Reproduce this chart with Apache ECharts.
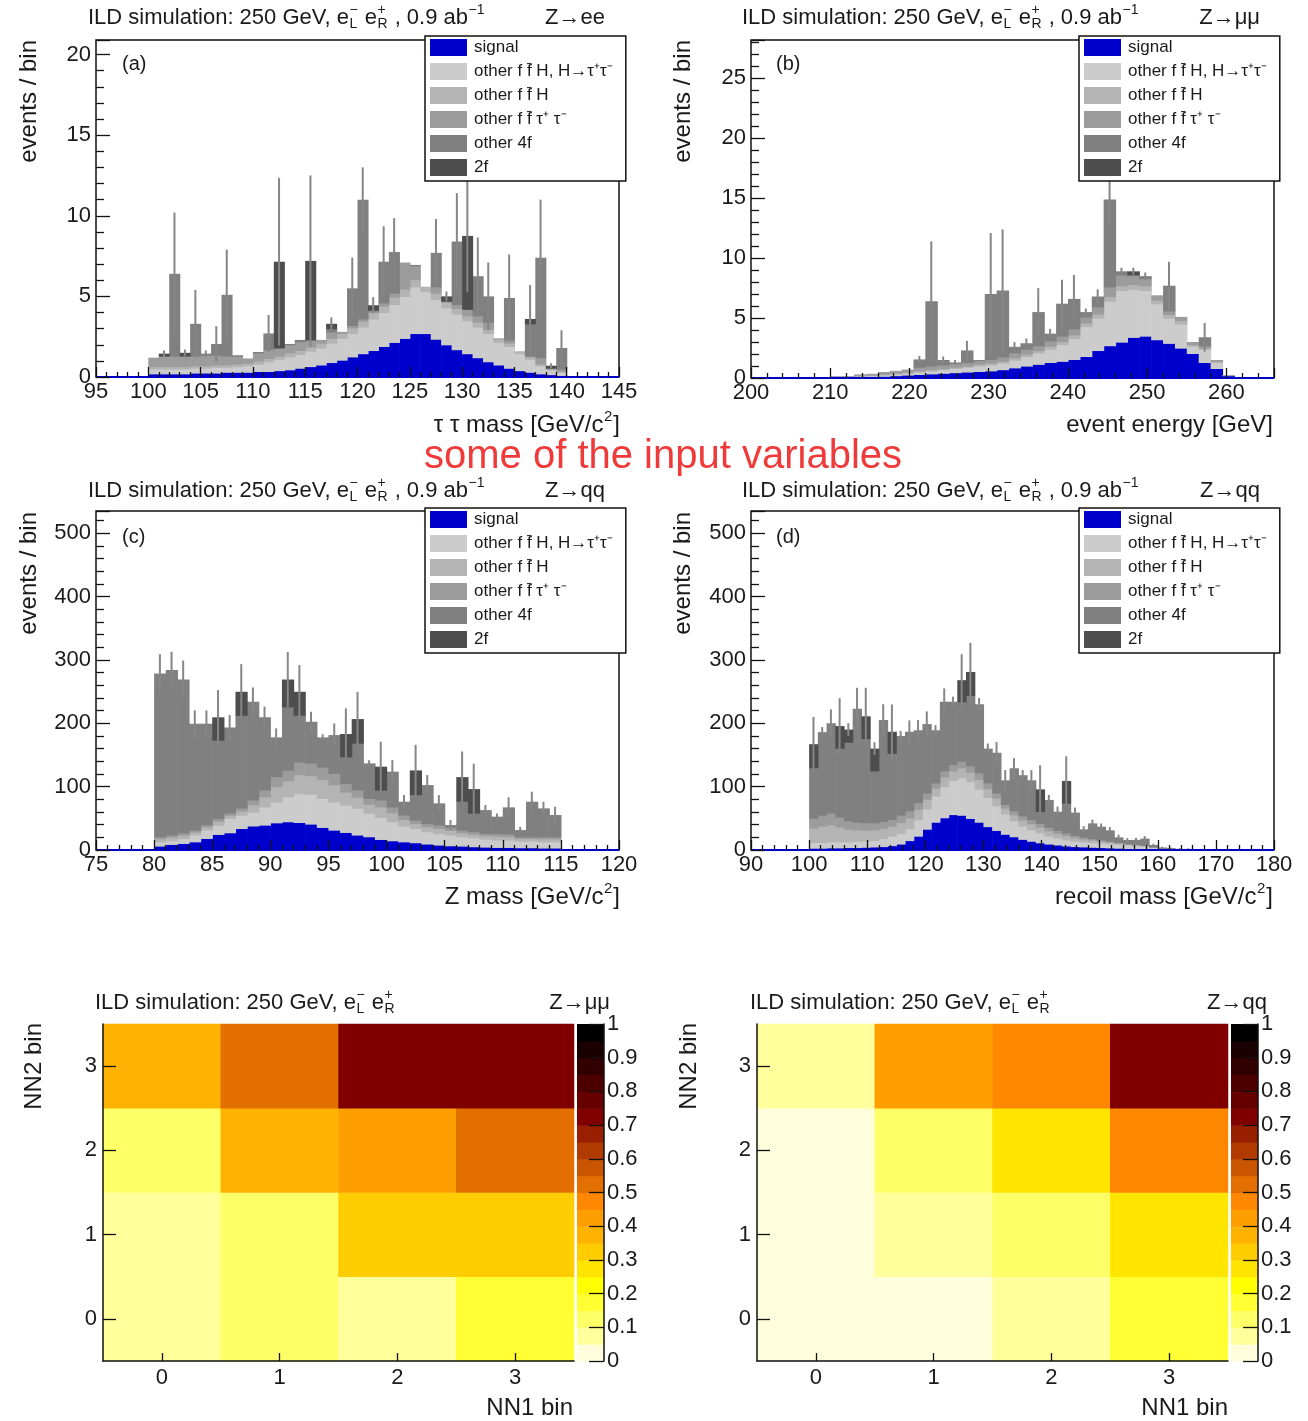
<!DOCTYPE html>
<html>
<head>
<meta charset="utf-8">
<title>ILD simulation: input variables and NN bin maps</title>
<script src="https://cdn.jsdelivr.net/npm/echarts@6/dist/echarts.min.js"></script>
<style>
  html, body { margin: 0; padding: 0; background: #ffffff; }
  #chart { width: 1308px; height: 1421px; }
</style>
</head>
<body>
<div id="chart"></div>
<script>
// ---------------------------------------------------------------------------
// Background categories of the stacked histograms (bottom of stack first)
// ---------------------------------------------------------------------------
const stackNames = [
  'signal',
  'other f f\u0304 H, H\u2192\u03c4\u207a\u03c4\u207b',
  'other f f\u0304 H',
  'other f f\u0304 \u03c4\u207a \u03c4\u207b',
  'other 4f',
  '2f'
];

// (a) Z->ee channel: tau tau mass, 1 GeV bins starting at 100 GeV/c2
const tautauBinStart = 100;
const tautauBinWidth = 1;
const tautauSignal = [0.2,0.2,0.2,0.2,0.25,0.25,0.25,0.3,0.3,0.3, 0.35,0.35,0.4,0.45,0.55,0.65,0.75,0.9,1.05,1.25, 1.45,1.65,1.9,2.15,2.4,2.7,2.7,2.35,2.0,1.7, 1.45,1.2,0.95,0.75,0.55,0.4,0.3,0.2,0.15,0.1];
const tautauHiggsTauTau = [0.3,0.3,0.3,0.3,0.3,0.3,0.35,0.3,0.35,0.4, 0.45,0.6,0.7,0.8,0.85,0.95,1.05,1.2,1.35,1.45, 1.65,1.95,2.1,2.35,2.6,2.9,2.6,2.45,2.3,2.2, 2.05,1.9,1.75,1.4,1.35,1.05,0.8,0.5,0.3,0.2];
const tautauHiggsOther = [0.15,0.15,0.15,0.15,0.15,0.15,0.15,0.15,0.15,0.15, 0.2,0.2,0.2,0.25,0.25,0.25,0.3,0.3,0.3,0.35, 0.35,0.4,0.4,0.45,0.45,0.45,0.3,0.4,0.35,0.35, 0.3,0.3,0.25,0.2,0.2,0.15,0.15,0.1,0.05,0.05];
const tautauFfTauTau = [0.55,0.65,0.65,0.65,0.6,0.65,0.6,0.55,0.5,0.3, 0.5,0.55,0.5,0.5,0.55,0.45,0.2,0.4,0.1,0.15, 0.15,0.1,0.2,0.25,1.65,0.85,0.0,0.4,0.05,0.25, 0.4,0.4,0.45,0.05,0.2,0.0,0.05,0.4,0.05,0.15];
const tautauFourF = [0,0,5.1,0,2.0,0.1,0.7,3.8,0.05,0, 0.05,1.0,0,0.05,0.1,0,0,0.2,0,2.3, 7.4,0.05,2.55,2.55,0,0.05,0,2.1,0,3.9, 0,2.45,1.6,0,2.6,0,2.0,6.2,0,1.3];
const tautauTwoF = [0,0.15,0,0.2,0,0,0,0,0,0, 0,0,5.35,0,0,4.9,0,0.3,0,0, 0,0.3,0,0,0,0,0,0,0.3,0, 4.55,0,0,0,0,0,0.3,0,0.15,0];
const tautauErrors = [0,0.2,3.8,0.2,2.1,0.2,1.1,2.8,0,0, 0,1.15,5.2,0,0,5.3,0,0.4,0,1.9, 2.0,0.5,2.2,2.1,0,0,0,2.1,0.3,3.0, 3.5,2.4,2.1,0,2.7,0,2.1,3.6,0.15,1.1];

// (b) Z->mumu channel: event energy, 1.5 GeV bins starting at 201 GeV
const energyBinStart = 201;
const energyBinWidth = 1.5;
const energySignal = [0.02,0.02,0.03,0.03,0.04,0.05,0.06,0.08,0.1,0.12, 0.15,0.2,0.25,0.3,0.35,0.4,0.45,0.5,0.55,0.6, 0.7,0.85,1.0,1.15,1.3,1.4,1.55,1.8,2.3,2.7, 3.0,3.4,3.5,3.2,2.9,2.5,2.05,1.3,0.8,0.2, 0.05,0.02,0.01];
const energyHiggsTauTau = [0.02,0.02,0.02,0.02,0.02,0.02,0.03,0.03,0.05,0.08, 0.1,0.12,0.15,0.2,0.25,0.3,0.35,0.4,0.45,0.5, 0.55,0.65,0.8,0.95,1.1,1.4,1.75,2.5,2.7,3.7, 4.3,4.0,3.8,3.0,2.1,2.0,0.6,1.1,0.5,0.04, 0.02,0.02,0.01];
const energyHiggsOther = [0,0,0,0,0.01,0.01,0.02,0.02,0.05,0.05, 0.05,0.08,0.1,0.1,0.1,0.1,0.1,0.1,0.15,0.15, 0.15,0.2,0.2,0.2,0.25,0.25,0.3,0.3,0.35,0.4, 0.4,0.4,0.4,0.3,0.3,0.3,0.15,0.1,0.1,0, 0,0,0];
const energyFfTauTau = [0.01,0.01,0.01,0.01,0.01,0,0.04,0.02,0.1,0.1, 0.2,0.2,0.2,0.3,0.3,0.3,0.3,0.3,0.3,0.3, 0.35,0.4,0.4,0.4,0.45,0.45,0.5,0.5,0.6,0.8, 0.9,0.8,0.6,0.4,0.3,0.3,0.2,0.2,0.1,0.01, 0.01,0.01,0.01];
const energyFourF = [0,0,0,0,0,0,0,0,0,0, 0,0,0,0.65,5.4,0.4,0.1,1.0,0.05,5.45, 5.55,0.5,0.5,2.8,0.6,2.7,2.5,0.4,0.85,7.3, 0.3,0,0.2,0,2.1,0,0,0.7,0,0, 0,0,0];
const energyTwoF = [0,0,0,0,0,0,0,0,0,0, 0,0,0,0,0,0,0,0,0,0, 0,0,0,0,0,0,0,0,0,0, 0,0.3,0,0,0,0,0,0,0,0, 0,0,0];
const energyErrors = [0,0,0,0,0,0,0,0,0,0, 0,0,0,0.3,5.0,0.3,0.2,0.8,0,5.1, 5.1,0.4,0.4,2.0,0.4,2.0,2.0,0.3,0.6,2.3, 0.3,0.3,0.3,0,2.0,0,0,1.2,0,0, 0,0,0];

// (c) Z->qq channel: Z mass, 1 GeV bins starting at 80 GeV/c2
const zmassBinStart = 80;
const zmassBinWidth = 1;
const zmassSignal = [6.3,9,10.5,13,18.4,24.7,27.3,34,38,39.4, 43,44.7,43.6,41,35.8,31.5,27.9,23.7,21,16.8, 14.7,13,11.6,9.5,7.9,6.8,6.3,5.3,4.7,4.2, 4.2,3.7,3.7,3.2,3.2];
const zmassHiggsTauTau = [6.7,6,7.5,11,13.1,14.3,22.7,21,22,28.6, 33,39.3,45.4,47,45.7,44.5,43.1,42.3,37,34.7, 30,25,22.4,19.5,18.1,16.9,14.7,14.2,12.7,11.6, 11.6,10.5,10.5,9.8,9.8];
const zmassHiggsOther = [4.8,5.4,5.4,4.5,5.1,6.6,4.8,6.6,11.4,16.2, 24,25.2,30,29.4,29.7,27,20.4,17.4,14.1,16.5, 14,10.2,7.8,7.8,8,7.3,6.3,5.7,5.2,6.1, 5.5,4.1,4.1,4.8,4.8];
const zmassFfTauTau = [3.2,3.6,3.6,3,3.4,4.4,3.2,4.4,7.6,10.8, 16,16.8,20,19.6,19.8,18,13.6,11.6,9.4,11, 9.3,6.8,5.2,5.2,5.4,4.8,4.2,3.8,3.4,4.1, 3.7,2.7,2.7,3.2,3.2];
const zmassFourF = [257.6,259.9,242,167.9,159.4,123.4,135.5,146.7,154.9,114.4, 61.7,100,73.7,65.4,46.7,60.4,42,73.6,55.2,15.5, 55.6,21.2,40.6,60.5,34.2,3.6,45.5,29.2,37,26.6, 42.3,10.5,55.2,44.7,34.2];
const zmassTwoF = [0,0,0,0,0,36,0,37,0,0, 0,43,37,0,0,0,36,38,0,37, 0,0,38,0,0,0,38,38,0,0, 0,0,0,0,0];
const zmassErrors = [30.5,29,30,21,21,43,19.5,43.6,22.6,16.8, 14.2,43.6,42,15.8,5,18.4,40.5,43,5,39.4, 18.4,10.5,40.5,15.8,13,8,40.5,40,8,5, 15.8,5,15.8,10.5,13];

// (d) Z->qq channel: recoil mass, 1.5 GeV bins starting at 100 GeV/c2
const recoilBinStart = 100;
const recoilBinWidth = 1.5;
const recoilSignal = [3,3,3.5,3.5,4,4,4.5,5,5.5,7, 9.5,15,22,33,44,51,56,55,50,44, 37,31,25,21,17,14,11.5,9.5,8,6.5, 5.5,5,4.5,4,3.5,3,2.5,2,1.5,1, 0.5,0.3,0.2,0.2,0.1,0.1];
const recoilHiggsTauTau = [9,9,9.5,9.5,9,10,9.5,10,12.5,15, 16.5,19,26,32,41,49,54,59,58,52, 46,39,32,25,21,18,15.5,12.5,11,9.5, 8.5,8,7.5,7,6.5,6,5.5,5,4.5,3, 1.5,0.7,0.3,0.2,0.1,0.1];
const recoilHiggsOther = [22.8,25.8,27,23.4,19.8,18,17.4,16.8,16.2,15.6, 17.4,16.8,16.2,15,12.6,15,15,15.6,15,15.6, 13.8,12,9,9.6,9.6,9.6,9,8.4,7.2,6.6, 5.4,4.2,3.6,3,2.4,1.8,1.2,1.2,1.2,0.6, 0.6,0.3,0.2,0.2,0.1,0.1];
const recoilFfTauTau = [15.2,17.2,18,15.6,13.2,12,11.6,11.2,10.8,10.4, 11.6,11.2,10.8,10,8.4,10,10,10.4,10,10.4, 9.2,8,6,6.4,6.4,6.4,6,5.6,4.8,4.4, 3.6,2.8,2.4,2,1.6,1.2,0.8,0.8,0.8,0.4, 0.4,0.2,0.1,0.1,0.1,0.1];
const recoilFourF = [80,131,142,108.6,124,179,133,82,160,104.6, 125,124.6,114,108.7,83,109,99,94,111,108, 54,63.5,38,67,64,62,18.7,43,29.5,47, 36,12.6,24,20.8,17,8,5.8,7,10,3, 1,1.5,1,1,0.8,0.5];
const recoilTwoF = [37,0,0,35,20,0,35,35,0,34, 0,0,0,0,0,0,0,34,37,0, 0,0,0,0,0,0,35,0,0,35, 0,0,0,0,0,0,0,0,0,0, 0,0,0,0,0,0];
const recoilErrors = [43,8,22,44,10,33,45,10,25,43, 8,18,16,20,8,21,8,41,46,10, 8,17,16,16,8,16,38,8,8,39, 8,5,6,5,5,4,3,3,4,2, 1,1,1,1,0,0];

// NN bin maps: rows = NN2 bin 0..3, columns = NN1 bin 0..3
const nnBinLabels = ['0', '1', '2', '3'];
const nnMapMuMu = [
  [0.075, 0.125, 0.075, 0.175],
  [0.075, 0.125, 0.325, 0.325],
  [0.125, 0.375, 0.425, 0.525],
  [0.375, 0.525, 0.725, 0.725]
];
const nnMapQQ = [
  [0.025, 0.025, 0.075, 0.175],
  [0.025, 0.075, 0.125, 0.275],
  [0.025, 0.125, 0.275, 0.475],
  [0.075, 0.425, 0.475, 0.725]
];

// Colour scale of the NN maps: level edges and the colour of each level
const paletteEdges = [0,0.05,0.1,0.15,0.2,0.25,0.3,0.35,0.4,0.45,0.5,0.55,0.6,0.65,0.7,0.75,0.8,0.85,0.9,0.95,1];
const paletteColors = ['#fffedc','#ffff9c','#ffff68','#ffff34','#ffff00','#ffe500','#ffcc00','#ffb300','#ff9e00','#ff8800',
                       '#e36f00','#c95500','#b03a00','#981f00','#800000','#660000','#4d0000','#330000','#1a0000','#000000'];

// ---------------------------------------------------------------------------
// Styling
// ---------------------------------------------------------------------------
const FONT = 'Liberation Sans';
const TEXT = '#1a1a1a';
const FRAME = '#111111';
const stackColors = ['#0000cc', '#cccccc', '#b4b4b4', '#9c9c9c', '#808080', '#4d4d4d'];
const errorColor = '#868686';

const panels = [
  { start: tautauBinStart, width: tautauBinWidth,
    layers: [tautauSignal, tautauHiggsTauTau, tautauHiggsOther, tautauFfTauTau, tautauFourF, tautauTwoF],
    errors: tautauErrors, xMin: 95, xMax: 145, xMajor: 5, yMax: 20.9, yMajor: 5 },
  { start: energyBinStart, width: energyBinWidth,
    layers: [energySignal, energyHiggsTauTau, energyHiggsOther, energyFfTauTau, energyFourF, energyTwoF],
    errors: energyErrors, xMin: 200, xMax: 266, xMajor: 10, yMax: 28.2, yMajor: 5 },
  { start: zmassBinStart, width: zmassBinWidth,
    layers: [zmassSignal, zmassHiggsTauTau, zmassHiggsOther, zmassFfTauTau, zmassFourF, zmassTwoF],
    errors: zmassErrors, xMin: 75, xMax: 120, xMajor: 5, yMax: 535, yMajor: 100 },
  { start: recoilBinStart, width: recoilBinWidth,
    layers: [recoilSignal, recoilHiggsTauTau, recoilHiggsOther, recoilFfTauTau, recoilFourF, recoilTwoF],
    errors: recoilErrors, xMin: 90, xMax: 180, xMajor: 10, yMax: 535, yMajor: 100 }
];

const grids = [
  { left: 96,   top: 40,   width: 523, height: 337 },  // (a)
  { left: 751,  top: 40,   width: 523, height: 338 },  // (b)
  { left: 96,   top: 511,  width: 523, height: 339 },  // (c)
  { left: 751,  top: 511,  width: 523, height: 339 },  // (d)
  { left: 103,  top: 1024, width: 471, height: 337 },  // NN map, Z->mumu
  { left: 757,  top: 1024, width: 471, height: 337 },  // NN map, Z->qq
  { left: 577,  top: 1024, width: 27,  height: 337 },  // colour scale, Z->mumu
  { left: 1231, top: 1024, width: 27,  height: 337 }   // colour scale, Z->qq
].map((g, i) => Object.assign(g, i < 4
  ? { show: true, borderColor: FRAME, borderWidth: 1.5, backgroundColor: 'transparent' }
  : { show: false }));

function isMultiple(v, step) {
  const r = v / step;
  return Math.abs(r - Math.round(r)) < 1e-6;
}

const tickLine = { color: FRAME, width: 1.3 };
const labelStyle = { fontSize: 22, color: TEXT, fontFamily: FONT };

function histXAxis(gi, p) {
  return {
    type: 'value', gridIndex: gi, min: p.xMin, max: p.xMax,
    minInterval: p.xMajor, maxInterval: p.xMajor, z: 10,
    axisLine: { show: false, onZero: false },
    axisTick: { show: true, inside: true, length: 10, lineStyle: tickLine },
    minorTick: { show: true, splitNumber: 5, length: 5, lineStyle: tickLine },
    splitLine: { show: false }, minorSplitLine: { show: false },
    axisLabel: Object.assign({ margin: 4, formatter: v => isMultiple(v, p.xMajor) ? String(v) : '' }, labelStyle)
  };
}
function histYAxis(gi, p) {
  return {
    type: 'value', gridIndex: gi, min: 0, max: p.yMax,
    minInterval: p.yMajor, maxInterval: p.yMajor, z: 10,
    axisLine: { show: false, onZero: false },
    axisTick: { show: true, inside: true, length: 14, lineStyle: tickLine },
    minorTick: { show: true, splitNumber: 5, length: 8, lineStyle: tickLine },
    splitLine: { show: false }, minorSplitLine: { show: false },
    axisLabel: Object.assign({ margin: 5, formatter: v => isMultiple(v, p.yMajor) ? String(v) : '' }, labelStyle)
  };
}

// One filled rectangle per bin, spanning [x0, x1] and [lo, hi] on the panel axes
function renderBin(params, api) {
  const x0 = api.value(0), x1 = api.value(1), lo = api.value(2), hi = api.value(3);
  if (!(hi > lo)) return null;
  const a = api.coord([x0, hi]);
  const b = api.coord([x1, lo]);
  return {
    type: 'rect',
    shape: { x: a[0], y: a[1], width: b[0] - a[0] + 0.6, height: b[1] - a[1] + 0.6 },
    style: { fill: api.visual('color') }
  };
}
// Statistical error bar on top of the stack
function renderError(params, api) {
  const x = api.value(0), y = api.value(1), e = api.value(2);
  if (!(e > 0)) return null;
  const a = api.coord([x, y - e]);
  const b = api.coord([x, y + e]);
  return { type: 'line', shape: { x1: a[0], y1: a[1], x2: b[0], y2: b[1] },
           style: { stroke: errorColor, lineWidth: 2 } };
}

const xAxes = [], yAxes = [], series = [];

panels.forEach((p, gi) => {
  xAxes.push(histXAxis(gi, p));
  yAxes.push(histYAxis(gi, p));
  const stackTop = new Array(p.layers[0].length).fill(0);
  p.layers.forEach((values, li) => {
    const data = values.map((v, i) => {
      const x0 = p.start + i * p.width;
      const lo = stackTop[i];
      stackTop[i] = lo + v;
      return [x0, x0 + p.width, lo, stackTop[i]];
    });
    const s = {
      type: 'custom', name: stackNames[li], xAxisIndex: gi, yAxisIndex: gi,
      renderItem: renderBin, data: data, encode: { x: [0, 1], y: [2, 3] },
      itemStyle: { color: stackColors[li] }, silent: true, clip: true, z: 2
    };
    if (li === 0) {
      s.markLine = {
        silent: true, symbol: 'none', animation: false, label: { show: false },
        lineStyle: { color: stackColors[0], width: 2, type: 'solid' },
        emphasis: { disabled: true },
        data: [{ yAxis: 0 }]
      };
    }
    series.push(s);
  });
  series.push({
    type: 'custom', name: 'stat. error', xAxisIndex: gi, yAxisIndex: gi,
    renderItem: renderError,
    data: p.errors.map((e, i) => [p.start + (i + 0.5) * p.width, stackTop[i], e]),
    encode: { x: 0, y: 1 }, silent: true, clip: true, z: 3
  });
});

// NN maps
function mapCategoryX(gi) {
  return {
    type: 'category', gridIndex: gi, data: nnBinLabels, z: 10,
    axisLine: { show: true, onZero: false, lineStyle: { color: FRAME, width: 1.5 } },
    axisTick: { show: true, inside: true, alignWithLabel: true, length: 8, lineStyle: tickLine },
    splitLine: { show: false },
    axisLabel: Object.assign({ margin: 6 }, labelStyle)
  };
}
function mapCategoryY(gi) {
  return {
    type: 'category', gridIndex: gi, data: nnBinLabels, z: 10,
    axisLine: { show: true, onZero: false, lineStyle: { color: FRAME, width: 1.5 } },
    axisTick: { show: true, inside: true, alignWithLabel: true, length: 13, lineStyle: tickLine },
    splitLine: { show: false },
    axisLabel: Object.assign({ margin: 6 }, labelStyle)
  };
}
xAxes.push(mapCategoryX(4), mapCategoryX(5));
yAxes.push(mapCategoryY(4), mapCategoryY(5));

const heatmapIndices = [];
[nnMapMuMu, nnMapQQ].forEach((table, k) => {
  const cells = [];
  table.forEach((row, nn2) => row.forEach((v, nn1) => cells.push([nn1, nn2, v])));
  heatmapIndices.push(series.length);
  series.push({
    type: 'heatmap', name: k === 0 ? 'NN bins Z\u2192\u03bc\u03bc' : 'NN bins Z\u2192qq',
    xAxisIndex: 4 + k, yAxisIndex: 4 + k, data: cells,
    itemStyle: { borderWidth: 0 }, emphasis: { disabled: true }, silent: true
  });
});

// Colour scales next to the maps (axis drawn on the right edge)
[6, 7].forEach(gi => {
  xAxes.push({ type: 'value', gridIndex: gi, min: 0, max: 1, show: false });
  yAxes.push({
    type: 'value', gridIndex: gi, position: 'right', min: 0, max: 1, interval: 0.1, z: 10,
    axisLine: { show: true, onZero: false, lineStyle: { color: FRAME, width: 1.5 } },
    axisTick: { show: true, inside: true, length: 15, lineStyle: tickLine },
    splitLine: { show: false },
    axisLabel: Object.assign({ margin: 3 }, labelStyle)
  });
  series.push({
    type: 'custom', name: 'colour scale', xAxisIndex: gi, yAxisIndex: gi,
    data: paletteColors.map((c, i) => [i]),
    renderItem: (params, api) => {
      const i = api.value(0);
      const a = api.coord([0, paletteEdges[i + 1]]);
      const b = api.coord([1, paletteEdges[i]]);
      return { type: 'rect', shape: { x: a[0], y: a[1], width: b[0] - a[0], height: b[1] - a[1] + 0.6 },
               style: { fill: paletteColors[i] } };
    },
    silent: true, z: 2
  });
});

// ---------------------------------------------------------------------------
// Text: titles with sub/superscripts, axis titles, panel tags
// ---------------------------------------------------------------------------
const measureCtx = document.createElement('canvas').getContext('2d');
function widthOf(text, size) {
  measureCtx.font = size + 'px "' + FONT + '"';
  return measureCtx.measureText(text).width;
}
// parts: plain strings, or {sup, sub} stacked after the previous glyph
function mathText(x, y, parts, size, align, color) {
  const small = Math.round(size * 0.64);
  const pieces = [];
  let cx = 0;
  parts.forEach(p => {
    if (typeof p === 'string') {
      pieces.push({ t: p, dx: cx, dy: 0, s: size });
      cx += widthOf(p, size);
    } else {
      let w = 0;
      if (p.sup) { pieces.push({ t: p.sup, dx: cx + 0.5, dy: -0.36 * size, s: small }); w = Math.max(w, widthOf(p.sup, small)); }
      if (p.sub) { pieces.push({ t: p.sub, dx: cx + 0.5, dy: 0.3 * size, s: small }); w = Math.max(w, widthOf(p.sub, small)); }
      cx += w + 1.5;
    }
  });
  const x0 = align === 'right' ? x - cx : (align === 'center' ? x - cx / 2 : x);
  return pieces.map(q => ({
    type: 'text', x: x0 + q.dx, y: y + q.dy, silent: true, z: 20,
    style: { text: q.t, fill: color || TEXT, fontSize: q.s, fontFamily: FONT,
             align: 'left', verticalAlign: 'middle', textAlign: 'left', textVerticalAlign: 'middle' }
  }));
}
function plainText(x, y, text, size, align, color) {
  return {
    type: 'text', x: x, y: y, silent: true, z: 20,
    style: { text: text, fill: color || TEXT, fontSize: size, fontFamily: FONT,
             align: align, verticalAlign: 'middle', textAlign: align, textVerticalAlign: 'middle' }
  };
}
function verticalText(x, yTop, text, size) {
  return {
    type: 'text', x: x, y: yTop, rotation: Math.PI / 2, silent: true, z: 20,
    style: { text: text, fill: TEXT, fontSize: size, fontFamily: FONT,
             align: 'right', verticalAlign: 'middle', textAlign: 'right', textVerticalAlign: 'middle' }
  };
}

const beamTitle = ['ILD simulation: 250 GeV, e', { sup: '\u2212', sub: 'L' }, ' e', { sup: '+', sub: 'R' }, ' , 0.9 ab', { sup: '\u22121' }];
const beamTitleShort = ['ILD simulation: 250 GeV, e', { sup: '\u2212', sub: 'L' }, ' e', { sup: '+', sub: 'R' }];
const TITLE_SIZE = 22;
const AXIS_TITLE_SIZE = 24;

const graphics = [].concat(
  mathText(88, 18, beamTitle, TITLE_SIZE, 'left'),
  mathText(742, 18, beamTitle, TITLE_SIZE, 'left'),
  mathText(88, 491, beamTitle, TITLE_SIZE, 'left'),
  mathText(742, 491, beamTitle, TITLE_SIZE, 'left'),
  mathText(95, 1003, beamTitleShort, TITLE_SIZE, 'left'),
  mathText(750, 1003, beamTitleShort, TITLE_SIZE, 'left'),
  [
    plainText(605, 18, 'Z\u2192ee', TITLE_SIZE, 'right'),
    plainText(1260, 18, 'Z\u2192\u03bc\u03bc', TITLE_SIZE, 'right'),
    plainText(605, 491, 'Z\u2192qq', TITLE_SIZE, 'right'),
    plainText(1260, 491, 'Z\u2192qq', TITLE_SIZE, 'right'),
    plainText(610, 1003, 'Z\u2192\u03bc\u03bc', TITLE_SIZE, 'right'),
    plainText(1267, 1003, 'Z\u2192qq', TITLE_SIZE, 'right'),
    plainText(122, 64, '(a)', 20, 'left'),
    plainText(776, 64, '(b)', 20, 'left'),
    plainText(122, 537, '(c)', 20, 'left'),
    plainText(776, 537, '(d)', 20, 'left'),
    verticalText(29, 40, 'events / bin', AXIS_TITLE_SIZE),
    verticalText(683, 40, 'events / bin', AXIS_TITLE_SIZE),
    verticalText(29, 512, 'events / bin', AXIS_TITLE_SIZE),
    verticalText(683, 512, 'events / bin', AXIS_TITLE_SIZE),
    verticalText(34, 1023, 'NN2 bin', AXIS_TITLE_SIZE),
    verticalText(689, 1023, 'NN2 bin', AXIS_TITLE_SIZE),
    plainText(1273, 425, 'event energy [GeV]', AXIS_TITLE_SIZE, 'right'),
    plainText(573, 1408, 'NN1 bin', AXIS_TITLE_SIZE, 'right'),
    plainText(1228, 1408, 'NN1 bin', AXIS_TITLE_SIZE, 'right'),
    plainText(663, 457, 'some of the input variables', 40, 'center', '#f03a3a')
  ],
  mathText(620, 425, ['\u03c4 \u03c4 mass [GeV/c', { sup: '2' }, ']'], AXIS_TITLE_SIZE, 'right'),
  mathText(620, 897, ['Z mass [GeV/c', { sup: '2' }, ']'], AXIS_TITLE_SIZE, 'right'),
  mathText(1273, 897, ['recoil mass [GeV/c', { sup: '2' }, ']'], AXIS_TITLE_SIZE, 'right')
);

// Legends, one box per histogram panel
const legendPositions = [[425, 36], [1079, 36], [425, 508], [1079, 508]];
const legends = legendPositions.map(pos => ({
  left: pos[0], top: pos[1], orient: 'vertical', data: stackNames,
  icon: 'rect', itemWidth: 37, itemHeight: 17, itemGap: 7,
  padding: [3, 13, 5, 5], borderColor: FRAME, borderWidth: 1.5, backgroundColor: '#ffffff',
  selectedMode: false, z: 6,
  textStyle: { fontSize: 17, color: TEXT, fontFamily: FONT, padding: [0, 0, 0, 2] }
}));

const option = {
  animation: false,
  backgroundColor: '#ffffff',
  textStyle: { fontFamily: FONT },
  grid: grids,
  xAxis: xAxes,
  yAxis: yAxes,
  legend: legends,
  visualMap: {
    type: 'piecewise', show: false, dimension: 2, seriesIndex: heatmapIndices,
    pieces: paletteColors.map((c, i) => (i === paletteColors.length - 1
      ? { gte: paletteEdges[i], lte: paletteEdges[i + 1], color: c }
      : { gte: paletteEdges[i], lt: paletteEdges[i + 1], color: c }))
  },
  graphic: { elements: graphics },
  series: series
};

const chart = echarts.init(document.getElementById('chart'), null, { renderer: 'canvas' });
chart.setOption(option);
</script>
</body>
</html>
